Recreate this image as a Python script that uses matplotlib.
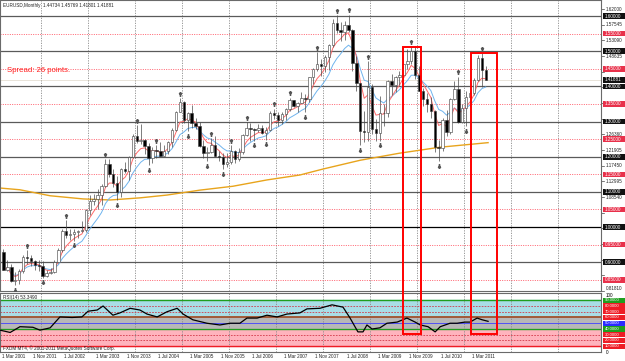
import matplotlib
matplotlib.use("Agg")
import matplotlib.pyplot as plt
import matplotlib.transforms as mtransforms
from matplotlib.patches import Rectangle
import numpy as np
import pandas as pd

# monthly EURUSD, Mar 2001 .. Jun 2011 (bar index = months since Mar 2001)
opens = [0.9290, 0.8785, 0.8875, 0.8455, 0.8495, 0.8760, 0.9135, 0.9110, 0.9030, 0.8910,
         0.8900, 0.8595, 0.8690, 0.8715, 0.9005, 0.9335, 0.9875, 0.9780, 0.9815, 0.9865,
         0.9885, 0.9925, 1.0490, 1.0730, 1.0790, 1.0905, 1.1165, 1.1805, 1.1505, 1.1245,
         1.0985, 1.1650, 1.1595, 1.1990, 1.2595, 1.2460, 1.2465, 1.2300, 1.1970, 1.2190,
         1.2170, 1.2020, 1.2170, 1.2430, 1.2765, 1.3265, 1.3560, 1.3040, 1.3245, 1.2960,
         1.2865, 1.2300, 1.2100, 1.2125, 1.2345, 1.2025, 1.1990, 1.1790, 1.1845, 1.2160,
         1.1925, 1.2120, 1.2625, 1.2815, 1.2790, 1.2765, 1.2815, 1.2670, 1.2770, 1.3250,
         1.3200, 1.3030, 1.3225, 1.3355, 1.3610, 1.3450, 1.3540, 1.3680, 1.3630, 1.4260,
         1.4495, 1.4625, 1.4590, 1.4845, 1.5185, 1.5795, 1.5595, 1.5550, 1.5750, 1.5600,
         1.4675, 1.4085, 1.2725, 1.2690, 1.3970, 1.2800, 1.2665, 1.3250, 1.3230, 1.4160,
         1.4035, 1.4255, 1.4335, 1.4635, 1.4715, 1.5010, 1.4325, 1.3865, 1.3630, 1.3510,
         1.3290, 1.2270, 1.2240, 1.3055, 1.2690, 1.3630, 1.3925, 1.3000, 1.3380, 1.3690,
         1.3810, 1.4170, 1.4810, 1.44734]
highs = [0.9365, 0.9060, 0.8945, 0.8710, 0.8815, 0.9200, 0.9335, 0.9215, 0.9075, 0.9070,
         0.9040, 0.8790, 0.8850, 0.9050, 0.9410, 0.9955, 1.0190, 0.9955, 0.9945, 0.9920,
         1.0160, 1.0500, 1.0900, 1.0935, 1.1080, 1.1230, 1.1935, 1.1930, 1.1650, 1.1440,
         1.1680, 1.1840, 1.2030, 1.2650, 1.2900, 1.2930, 1.2500, 1.2400, 1.2280, 1.2330,
         1.2430, 1.2320, 1.2440, 1.2815, 1.3310, 1.3665, 1.3575, 1.3280, 1.3480, 1.3100,
         1.2990, 1.2475, 1.2265, 1.2530, 1.2590, 1.2150, 1.2100, 1.2095, 1.2325, 1.2185,
         1.2250, 1.2640, 1.2980, 1.2955, 1.2820, 1.2925, 1.2905, 1.2850, 1.3290, 1.3365,
         1.3265, 1.3270, 1.3390, 1.3680, 1.3625, 1.3545, 1.3850, 1.3790, 1.4280, 1.4525,
         1.4965, 1.4780, 1.4905, 1.5215, 1.5905, 1.6020, 1.5820, 1.5845, 1.6040, 1.5640,
         1.4865, 1.4090, 1.3300, 1.4720, 1.4080, 1.3060, 1.3740, 1.3500, 1.4180, 1.4340,
         1.4305, 1.4445, 1.4845, 1.5060, 1.5145, 1.5140, 1.4580, 1.3960, 1.3815, 1.3690,
         1.3330, 1.2470, 1.3110, 1.3335, 1.3680, 1.4160, 1.4280, 1.3500, 1.3860, 1.3860,
         1.4250, 1.4880, 1.4940, 1.45769]
lows = [0.8770, 0.8755, 0.8435, 0.8345, 0.8370, 0.8705, 0.8945, 0.8890, 0.8770, 0.8740,
        0.8565, 0.8590, 0.8660, 0.8680, 0.8990, 0.9280, 0.9690, 0.9620, 0.9605, 0.9695,
        0.9860, 0.9865, 1.0335, 1.0640, 1.0500, 1.0615, 1.1150, 1.1420, 1.1140, 1.0765,
        1.0855, 1.1545, 1.1350, 1.1960, 1.2395, 1.2355, 1.2085, 1.1760, 1.1810, 1.1960,
        1.2015, 1.2015, 1.2080, 1.2270, 1.2740, 1.3260, 1.2960, 1.2730, 1.2805, 1.2790,
        1.2270, 1.1950, 1.1870, 1.2110, 1.1985, 1.1870, 1.1640, 1.1710, 1.1800, 1.1825,
        1.1865, 1.2070, 1.2600, 1.2460, 1.2455, 1.2710, 1.2650, 1.2485, 1.2740, 1.3070,
        1.2865, 1.2940, 1.3050, 1.3310, 1.3415, 1.3265, 1.3530, 1.3260, 1.3570, 1.4070,
        1.4445, 1.4295, 1.4400, 1.4455, 1.5120, 1.5520, 1.5285, 1.5305, 1.5540, 1.4440,
        1.3880, 1.2330, 1.2420, 1.2460, 1.2650, 1.2460, 1.2455, 1.2885, 1.3125, 1.3745,
        1.3835, 1.4045, 1.4135, 1.4480, 1.4645, 1.4215, 1.3860, 1.3440, 1.3265, 1.3115,
        1.2140, 1.1875, 1.2150, 1.2590, 1.2640, 1.3615, 1.2970, 1.2970, 1.2870, 1.3425,
        1.3760, 1.4150, 1.3970, 1.41801]
closes = opens[1:] + [1.41881]

# fractal bars
up_fractals = [6, 16, 26, 34, 39, 45, 53, 58, 62, 69, 73, 80, 85, 88, 93, 104, 116, 122]
down_fractals = [3, 10, 18, 29, 37, 47, 52, 56, 64, 67, 77, 91, 96, 111, 118]

# long moving average (orange)
ma_long_x = [-0.9, 4.2, 11.9, 20.3, 27.2, 34.8, 41.7, 50.1, 58.5, 67.2, 75.6, 81.5, 91, 101, 111.3, 123.6]
ma_long_y = [1.111, 1.106, 1.089, 1.080, 1.077, 1.083, 1.091, 1.105, 1.116, 1.134, 1.148,
             1.165, 1.190, 1.210, 1.227, 1.240]

# RSI(14)
rsi_x = [-0.9, 1.7, 4.2, 7.5, 9.3, 11.9, 14.4, 17.5, 20, 21.6, 23.9, 25.4, 27.9, 29.7, 32.3,
         34.8, 36.6, 39.2, 41.7, 44.3, 45.8, 48.3, 51.9, 55.2, 57.8, 60.3, 62.1, 64.7, 67.2,
         69.8, 72.3, 75.6, 77.4, 80.7, 83.8, 86.6, 88.4, 90.4, 91.7, 92.7, 94, 96, 97.8,
         100.4, 102.9, 105, 106.3, 108.3, 110.1, 111.4, 113.9, 115.7, 117.7, 119, 120.8,
         122.1, 123.6]
rsi_y = [38, 34, 44, 43, 38, 42, 61, 60, 61, 71, 73, 80, 64, 68, 76, 73, 66, 61, 70, 76, 66,
         56, 50, 47, 50, 50, 59, 59, 64, 61, 66, 68, 75, 76, 82, 78, 59, 35, 35, 47, 40, 42,
         50, 52, 59, 52, 47, 44, 35, 44, 50, 50, 52, 52, 59, 56, 53.35]

date_labels = ["1 Mar 2001", "1 Nov 2001", "1 Jul 2002", "1 Mar 2003", "1 Nov 2003",
               "1 Jul 2004", "1 Mar 2005", "1 Nov 2005", "1 Jul 2006", "1 Mar 2007",
               "1 Nov 2007", "1 Jul 2008", "1 Mar 2009", "1 Nov 2009", "1 Jul 2010",
               "1 Mar 2011"]
price_labels = [1.62000, 1.57545, 1.53090, 1.48635, 1.44180, 1.39725, 1.35270, 1.30815,
                1.26360, 1.21905, 1.17450, 1.12995, 1.08540, 1.04085, 0.99630, 0.95175,
                0.90720, 0.86265, 0.81810]
round_levels = [1.60, 1.50, 1.40, 1.30, 1.20, 1.10, 1.00, 0.90]
half_levels = [1.55, 1.45, 1.35, 1.25, 1.15, 1.05, 0.95, 0.85]
bid = 1.41881
rsi_levels = [90, 80, 70, 60, 50, 40, 30, 20, 10]
rsi_level_colors = ["#1f9e1f", "#ee1c25", "#ee1c25", "#ee1c25", "#2b2bff",
                    "#1f9e1f", "#ee1c25", "#ee1c25", "#ee1c25"]

plt.rcParams['font.family'] = ['Liberation Sans', 'DejaVu Sans']
FS = 3.3
W, H = 625.0, 361.0

fig = plt.figure(figsize=(6.25, 3.61), dpi=100)
fig.patch.set_facecolor("white")
ax = fig.add_axes([0, 70 / H, 601 / W, 291 / H])
rx = fig.add_axes([0, 9 / H, 601 / W, 59 / H])

n = len(closes)
x = np.arange(n)

# grid
for a in (ax, rx):
    for g in np.arange(9.5, 150, 12):
        a.axvline(g, color="#8a8a8a", lw=0.6, ls=(0, (1.5, 1.5)), zorder=1)

for lv in round_levels:
    c = "black" if lv == 1.00 else "#5a5a5a"
    ax.axhline(lv, color=c, lw=0.9, zorder=1)
for lv in half_levels:
    ax.axhline(lv, color="#ff4a5a", lw=0.6, ls=(0, (1.2, 1.6)), zorder=1)
ax.axhline(bid, color="#cbbfa8", lw=0.6, ls=(0, (1.2, 1.2)), zorder=1)

# moving averages
ema_fast = pd.Series(closes).ewm(span=5).mean()
ema_slow = pd.Series(closes).ewm(span=10).mean()
ax.plot(ma_long_x, ma_long_y, color="#e8a41c", lw=1.0, zorder=2)
ax.plot(x, ema_slow, color="#6fb4ee", lw=0.7, zorder=2)
ax.plot(x, ema_fast, color="#ff6a6a", lw=0.7, zorder=2)

# candles
o = np.array(opens)
c = np.array(closes)
ax.vlines(x, lows, highs, color="#4a4a4a", lw=0.5, zorder=3)
body_lo = np.minimum(o, c)
body_h = np.maximum(np.abs(c - o), 0.002)
cols = ["white" if cc >= oo else "black" for oo, cc in zip(o, c)]
ax.bar(x, body_h, bottom=body_lo, width=0.62, color=cols, edgecolor="#3a3a3a",
       linewidth=0.4, zorder=4)

# fractals
up_t = mtransforms.offset_copy(ax.transData, fig=fig, y=4.5, units="dots")
dn_t = mtransforms.offset_copy(ax.transData, fig=fig, y=-4.5, units="dots")
ax.plot(up_fractals, [highs[i] for i in up_fractals], ls="none", marker=r"$\uparrow$",
        ms=2.6, color="#555555", transform=up_t, zorder=5)
ax.plot(down_fractals, [lows[i] for i in down_fractals], ls="none", marker=r"$\downarrow$",
        ms=2.6, color="#555555", transform=dn_t, zorder=5)

ax.set_xlim(-0.89, 152.4)
ax.set_ylim(0.8182, 1.6456)
ax.set_xticks([])
ax.set_yticks([])
for s in ax.spines.values():
    s.set_color("#6a6a6a")
    s.set_linewidth(0.8)

ax.text(3 / W, 1 - 5 / H, "EURUSD,Monthly  1.44734 1.45769 1.41801 1.41881", transform=fig.transFigure,
        fontsize=FS, va="center", ha="left", color="#222222")
ax.text(7 / W, 1 - 70 / H, "Spread: 26 points.", transform=fig.transFigure,
        fontsize=5.6, va="center", ha="left", color="#ff2020")

# right price scale
tp = mtransforms.blended_transform_factory(fig.transFigure, ax.transData)
hh = 2.8 / 351.7
boxed = round_levels + half_levels + [bid]
for p in price_labels:
    ax.plot([601 / W, 604 / W], [p, p], color="#444444", lw=0.5, transform=tp, clip_on=False)
    if min(abs(p - b) for b in boxed) < 0.013:
        continue  # hidden behind a level box
    ax.text(606 / W, p, "%.5f" % p, transform=tp, fontsize=FS,
            va="bottom" if p == price_labels[-1] else "center", ha="left",
            color="#222222", clip_on=False)
for lv, col in [(v, "#111111") for v in round_levels] + [(v, "#e8304a") for v in half_levels] + [(bid, "#111111")]:
    ax.add_patch(Rectangle((603 / W, lv - hh), 22 / W, 2 * hh, transform=tp, facecolor=col,
                           edgecolor="none", clip_on=False, zorder=6))
    ax.text(605 / W, lv, "%.5f" % lv, transform=tp, fontsize=FS, va="center", ha="left",
            color="white", clip_on=False, zorder=7)

# RSI panel
rx.axhspan(60, 90, color="#a9dde6", zorder=0)
rx.axhspan(40, 60, color="#b7b7b7", zorder=0)
rx.axhspan(10, 40, color="#ffb3bd", zorder=0)
for lv, col in zip(rsi_levels, rsi_level_colors):
    if lv in (80, 70, 30, 20):
        rx.axhline(lv, color="#d23a4a", lw=0.6, ls=(0, (2, 1.5)), zorder=1)
    elif lv == 60:
        rx.axhline(lv, color="#a0522d", lw=1.3, zorder=1)
    elif lv == 50:
        rx.axhline(lv, color="#4040ff", lw=0.6, zorder=1)
    else:
        rx.axhline(lv, color=col, lw=1.0, zorder=1)
rx.plot(rsi_x, rsi_y, color="black", lw=0.9, zorder=3)
rx.set_xlim(-0.89, 152.4)
rx.set_ylim(0, 102.6)
rx.set_xticks([])
rx.set_yticks([])
for s in rx.spines.values():
    s.set_color("#6a6a6a")
    s.set_linewidth(0.8)

rx.text(3 / W, 1 - 298 / H, "RSI(14) 53.3490", transform=fig.transFigure, fontsize=FS,
        va="center", ha="left", color="#222222", zorder=5)
rx.text(3 / W, 1 - 348 / H, "FXDM MT4, \u00a9 2001-2011 MetaQuotes Software Corp.",
        transform=fig.transFigure, fontsize=FS, va="center", ha="left", color="#222222", zorder=5)

tr = mtransforms.blended_transform_factory(fig.transFigure, rx.transData)
rh = 2.7 / 0.575
rx.text(606 / W, 102, "100", transform=tr, fontsize=FS, va="top", ha="left", clip_on=False)
rx.text(606 / W, 0, "0", transform=tr, fontsize=FS, va="center", ha="left", clip_on=False)
for lv, col in zip(rsi_levels, rsi_level_colors):
    rx.add_patch(Rectangle((603 / W, lv - rh), 22 / W, 2 * rh, transform=tr, facecolor=col,
                           edgecolor="none", clip_on=False, zorder=6))
    rx.text(605 / W, lv, "%.4f" % lv, transform=tr, fontsize=3.0, va="center", ha="left",
            color="white", clip_on=False, zorder=7)

# time labels
tb = mtransforms.blended_transform_factory(rx.transData, fig.transFigure)
for k, lab in enumerate(date_labels):
    rx.text(k * 8 - 0.5, 1 - 357 / H, lab, transform=tb, fontsize=FS, va="center", ha="left",
            color="#222222", clip_on=False)

# red boxes drawn over both panels
tbx = mtransforms.blended_transform_factory(ax.transData, fig.transFigure)
for x0, x1, ytop in [(101.8, 106.5, 46.7), (119.2, 125.9, 53.0)]:
    fig.add_artist(Rectangle((x0, 1 - 334 / H), x1 - x0, (334 - ytop) / H, transform=tbx,
                             fill=False, edgecolor="#ff0000", lw=1.4, zorder=10))

fig.savefig("out.png", dpi=100)
